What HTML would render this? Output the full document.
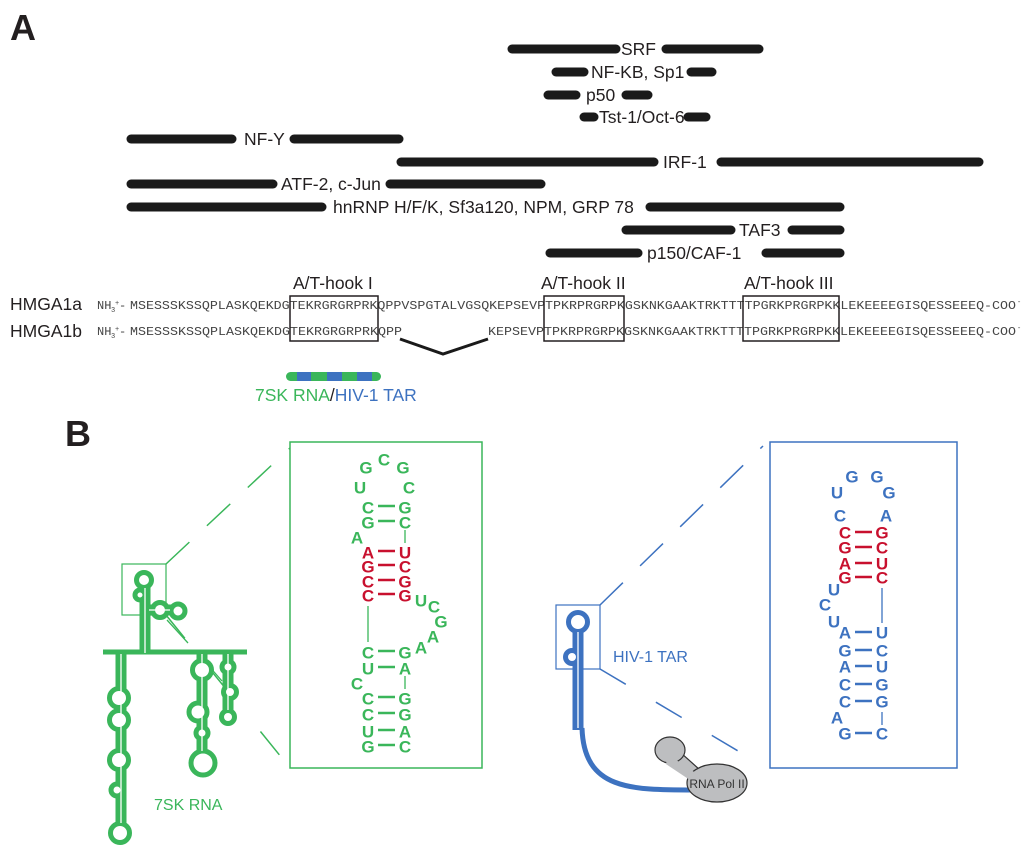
<!DOCTYPE html>
<html><head><meta charset="utf-8"><style>
html,body{margin:0;padding:0;background:#fff}
svg{display:block}
.lb{font-family:"Liberation Sans",Arial,sans-serif;font-size:17.5px;fill:#231f20}
.sq{font-family:"Liberation Mono","Courier New",monospace;font-size:12px;fill:#444}
.g{font-family:"Liberation Sans",Arial,sans-serif;font-weight:bold;font-size:17px;fill:#3ab65a;text-anchor:middle;dominant-baseline:central}
.b{font-family:"Liberation Sans",Arial,sans-serif;font-weight:bold;font-size:17px;fill:#3d72c0;text-anchor:middle;dominant-baseline:central}
.r{fill:#c8102e}
</style></head><body>
<svg width="1024" height="854" viewBox="0 0 1024 854" xmlns="http://www.w3.org/2000/svg">
<text x="10" y="40" font-family="Liberation Sans,Arial,sans-serif" font-weight="bold" font-size="36" fill="#231f20">A</text>
<text x="65" y="446" font-family="Liberation Sans,Arial,sans-serif" font-weight="bold" font-size="36" fill="#231f20">B</text>

<g stroke="#1a1a1a" stroke-width="9" stroke-linecap="round">
<line x1="512" y1="49" x2="616" y2="49"/><line x1="666" y1="49" x2="759" y2="49"/>
<line x1="556" y1="72" x2="584" y2="72"/><line x1="691" y1="72" x2="712" y2="72"/>
<line x1="548" y1="95" x2="576" y2="95"/><line x1="626" y1="95" x2="648" y2="95"/>
<line x1="584" y1="117" x2="594" y2="117"/><line x1="688" y1="117" x2="706" y2="117"/>
<line x1="131" y1="139" x2="232" y2="139"/><line x1="294" y1="139" x2="399" y2="139"/>
<line x1="401" y1="162" x2="654" y2="162"/><line x1="721" y1="162" x2="979" y2="162"/>
<line x1="131" y1="184" x2="273" y2="184"/><line x1="390" y1="184" x2="541" y2="184"/>
<line x1="131" y1="207" x2="322" y2="207"/><line x1="650" y1="207" x2="840" y2="207"/>
<line x1="626" y1="230" x2="731" y2="230"/><line x1="792" y1="230" x2="840" y2="230"/>
<line x1="550" y1="253" x2="638" y2="253"/><line x1="766" y1="253" x2="840" y2="253"/>
</g>
<g class="lb">
<text x="621" y="55">SRF</text>
<text x="591" y="78">NF-KB, Sp1</text>
<text x="586" y="101">p50</text>
<text x="599" y="123">Tst-1/Oct-6</text>
<text x="244" y="145">NF-Y</text>
<text x="663" y="168">IRF-1</text>
<text x="281" y="190">ATF-2, c-Jun</text>
<text x="333" y="213">hnRNP H/F/K, Sf3a120, NPM, GRP 78</text>
<text x="739" y="236">TAF3</text>
<text x="647" y="259">p150/CAF-1</text>
<text x="293" y="289">A/T-hook I</text>
<text x="541" y="289">A/T-hook II</text>
<text x="744" y="289">A/T-hook III</text>
</g>
<text x="10" y="310" font-family="Liberation Sans,Arial,sans-serif" font-size="17.5" fill="#231f20">HMGA1a</text>
<text x="10" y="337" font-family="Liberation Sans,Arial,sans-serif" font-size="17.5" fill="#231f20">HMGA1b</text>

<g class="sq">
<text x="97" y="309">NH</text><text x="111" y="312" font-size="7">3</text><text x="115" y="305" font-size="7">+</text>
<text x="119" y="309" textLength="11">-</text>
<text x="130" y="309" textLength="886" lengthAdjust="spacingAndGlyphs">MSESSSKSSQPLASKQEKDGTEKRGRGRPRKQPPVSPGTALVGSQKEPSEVPTPKRPRGRPKGSKNKGAAKTRKTTTTPGRKPRGRPKKLEKEEEEGISQESSEEEQ-COO</text>
<text x="1017" y="304" font-size="7">-</text>
<text x="97" y="335">NH</text><text x="111" y="338" font-size="7">3</text><text x="115" y="331" font-size="7">+</text>
<text x="119" y="335" textLength="11">-</text>
<text x="130" y="335" textLength="272" lengthAdjust="spacingAndGlyphs">MSESSSKSSQPLASKQEKDGTEKRGRGRPRKQPP</text>
<text x="488" y="335" textLength="528" lengthAdjust="spacingAndGlyphs">KEPSEVPTPKRPRGRPKGSKNKGAAKTRKTTTTPGRKPRGRPKKLEKEEEEGISQESSEEEQ-COO</text>
<text x="1017" y="330" font-size="7">-</text>
</g>
<g fill="none" stroke="#231f20" stroke-width="1.5">
<rect x="290" y="296" width="88" height="45"/>
<rect x="544" y="296" width="80" height="45"/>
<rect x="743" y="296" width="96" height="45"/>
</g>
<polyline points="400,339 443,354 488,339" fill="none" stroke="#1a1a1a" stroke-width="3"/>

<rect x="286" y="372" width="95" height="9" rx="4.5" fill="#3ab65a"/>
<g fill="#3d72c0"><rect x="297" y="372" width="14" height="9"/><rect x="327" y="372" width="15" height="9"/><rect x="357" y="372" width="15" height="9"/></g>
<text x="255" y="401" font-family="Liberation Sans,Arial,sans-serif" font-size="17.5"><tspan fill="#3ab65a">7SK RNA</tspan><tspan fill="#231f20">/</tspan><tspan fill="#3d72c0">HIV-1 TAR</tspan></text>

<!-- 7SK -->
<g stroke="#3ab65a" fill="none">
<rect x="122" y="564" width="44" height="51" stroke-width="1.2"/>
<line x1="166" y1="564" x2="290" y2="448" stroke-width="1.5" stroke-dasharray="32,24"/>
<line x1="166" y1="615" x2="290" y2="768" stroke-width="1.5" stroke-dasharray="30,45"/>
<rect x="290" y="442" width="192" height="326" stroke-width="1.5"/>
<line x1="103" y1="652" x2="247" y2="652" stroke-width="5"/>
<g stroke-width="11">
<line x1="145" y1="580" x2="145" y2="652"/>
<line x1="121" y1="652" x2="121" y2="833"/>
<line x1="202" y1="652" x2="202" y2="763"/>
<line x1="228" y1="652" x2="228" y2="717"/>
<line x1="145" y1="610" x2="178" y2="610"/>
</g>
<g stroke-width="5" fill="#fff">
<circle cx="144" cy="580" r="7.5"/><circle cx="140" cy="595" r="5"/>
<circle cx="160" cy="610" r="7.5"/><circle cx="178" cy="611" r="7"/>
<circle cx="119" cy="698" r="9.5"/><circle cx="119" cy="720" r="9.5"/><circle cx="119" cy="760" r="9.5"/><circle cx="117" cy="790" r="6"/><circle cx="120" cy="833" r="9.5"/>
<circle cx="202" cy="670" r="9.5"/><circle cx="198" cy="712" r="9"/><circle cx="202" cy="733" r="6"/><circle cx="203" cy="763" r="12"/>
<circle cx="228" cy="667" r="6"/><circle cx="230" cy="692" r="6.5"/><circle cx="228" cy="717" r="6.5"/>
</g>
<g stroke="#fff" stroke-width="1.3">
<line x1="145" y1="588" x2="145" y2="653"/><line x1="121" y1="654" x2="121" y2="823"/>
<line x1="202" y1="654" x2="202" y2="751"/><line x1="228" y1="654" x2="228" y2="710"/>
<line x1="149" y1="610" x2="170" y2="610"/>
</g>
<line x1="167" y1="620" x2="188" y2="643" stroke-width="1.3"/>
<line x1="208" y1="665" x2="222" y2="681" stroke-width="1.3"/>
</g>
<text x="154" y="810" font-family="Liberation Sans,Arial,sans-serif" font-size="16" fill="#3ab65a">7SK RNA</text>

<g class="g">
<text x="366" y="468">G</text><text x="384" y="460">C</text><text x="403" y="468">G</text>
<text x="360" y="488">U</text><text x="409" y="488">C</text>
<text x="368" y="508">C</text><text x="405" y="508">G</text>
<text x="368" y="523">G</text><text x="405" y="523">C</text>
<text x="357" y="538">A</text>
<text x="368" y="553" class="r">A</text><text x="405" y="553" class="r">U</text>
<text x="368" y="567" class="r">G</text><text x="405" y="567" class="r">C</text>
<text x="368" y="582" class="r">C</text><text x="405" y="582" class="r">G</text>
<text x="368" y="596" class="r">C</text><text x="405" y="596" class="r">G</text>
<text x="421" y="601">U</text><text x="434" y="607">C</text><text x="441" y="622">G</text><text x="433" y="637">A</text><text x="421" y="648">A</text>
<text x="368" y="653">C</text><text x="405" y="653">G</text>
<text x="368" y="669">U</text><text x="405" y="669">A</text>
<text x="357" y="684">C</text>
<text x="368" y="699">C</text><text x="405" y="699">G</text>
<text x="368" y="715">C</text><text x="405" y="715">G</text>
<text x="368" y="732">U</text><text x="405" y="732">A</text>
<text x="368" y="747">G</text><text x="405" y="747">C</text>
</g>
<g stroke="#3ab65a" stroke-width="2.5">
<line x1="378" y1="506" x2="395" y2="506"/><line x1="378" y1="521" x2="395" y2="521"/>
<line x1="378" y1="651" x2="395" y2="651"/><line x1="378" y1="667" x2="395" y2="667"/>
<line x1="378" y1="697" x2="395" y2="697"/><line x1="378" y1="713" x2="395" y2="713"/>
<line x1="378" y1="730" x2="395" y2="730"/><line x1="378" y1="745" x2="395" y2="745"/>
</g>
<g stroke="#3ab65a" stroke-width="1.3">
<line x1="405" y1="530" x2="405" y2="543"/><line x1="368" y1="606" x2="368" y2="642"/><line x1="405" y1="676" x2="405" y2="689"/>
</g>
<g stroke="#c8102e" stroke-width="2.5">
<line x1="378" y1="551" x2="395" y2="551"/><line x1="378" y1="565" x2="395" y2="565"/>
<line x1="378" y1="580" x2="395" y2="580"/><line x1="378" y1="594" x2="395" y2="594"/>
</g>

<!-- TAR -->
<g stroke="#3d72c0" fill="none">
<rect x="556" y="605" width="44" height="64" stroke-width="1.2"/>
<line x1="600" y1="605" x2="763" y2="446" stroke-width="1.5" stroke-dasharray="32,24"/>
<line x1="600" y1="669" x2="760" y2="764" stroke-width="1.5" stroke-dasharray="30,35"/>
<rect x="770" y="442" width="187" height="326" stroke-width="1.5"/>
<line x1="578" y1="630" x2="578" y2="730" stroke-width="11"/>
<path d="M582,728 C584,790 630,790 695,790" stroke-width="5"/>
<circle cx="578" cy="622" r="9.5" stroke-width="5" fill="#fff"/>
<circle cx="572" cy="657" r="6.5" stroke-width="5" fill="#fff"/>
<line x1="578" y1="632" x2="578" y2="728" stroke="#fff" stroke-width="1.3"/>
</g>
<text x="613" y="662" font-family="Liberation Sans,Arial,sans-serif" font-size="16" fill="#3d72c0">HIV-1 TAR</text>
<g fill="#bdbec0" stroke="#333" stroke-width="1.2">
<path d="M668,762 L690,778 L700,770 L680,752 Z"/>
<ellipse cx="670" cy="750" rx="15" ry="13"/>
<ellipse cx="717" cy="783" rx="30" ry="19"/>
</g>
<path d="M668,760 L692,776" stroke="#bdbec0" stroke-width="9"/>
<text x="717" y="788" text-anchor="middle" font-family="Liberation Sans,Arial,sans-serif" font-size="12" fill="#333">RNA Pol II</text>

<g class="b">
<text x="852" y="477">G</text><text x="877" y="477">G</text>
<text x="837" y="493">U</text><text x="889" y="493">G</text>
<text x="840" y="516">C</text><text x="886" y="516">A</text>
<text x="845" y="533" class="r">C</text><text x="882" y="533" class="r">G</text>
<text x="845" y="548" class="r">G</text><text x="882" y="548" class="r">C</text>
<text x="845" y="564" class="r">A</text><text x="882" y="564" class="r">U</text>
<text x="845" y="578" class="r">G</text><text x="882" y="578" class="r">C</text>
<text x="834" y="590">U</text><text x="825" y="605">C</text><text x="834" y="622">U</text>
<text x="845" y="633">A</text><text x="882" y="633">U</text>
<text x="845" y="651">G</text><text x="882" y="651">C</text>
<text x="845" y="667">A</text><text x="882" y="667">U</text>
<text x="845" y="685">C</text><text x="882" y="685">G</text>
<text x="845" y="702">C</text><text x="882" y="702">G</text>
<text x="837" y="718">A</text>
<text x="845" y="734">G</text><text x="882" y="734">C</text>
</g>
<g stroke="#c8102e" stroke-width="2.5">
<line x1="855" y1="532" x2="872" y2="532"/><line x1="855" y1="547" x2="872" y2="547"/>
<line x1="855" y1="563" x2="872" y2="563"/><line x1="855" y1="577" x2="872" y2="577"/>
</g>
<g stroke="#3d72c0" stroke-width="2.5">
<line x1="855" y1="632" x2="872" y2="632"/><line x1="855" y1="650" x2="872" y2="650"/>
<line x1="855" y1="666" x2="872" y2="666"/><line x1="855" y1="684" x2="872" y2="684"/>
<line x1="855" y1="701" x2="872" y2="701"/><line x1="855" y1="733" x2="872" y2="733"/>
</g>
<g stroke="#3d72c0" stroke-width="1.3">
<line x1="882" y1="588" x2="882" y2="623"/><line x1="882" y1="712" x2="882" y2="725"/>
</g>
</svg>
</body></html>
